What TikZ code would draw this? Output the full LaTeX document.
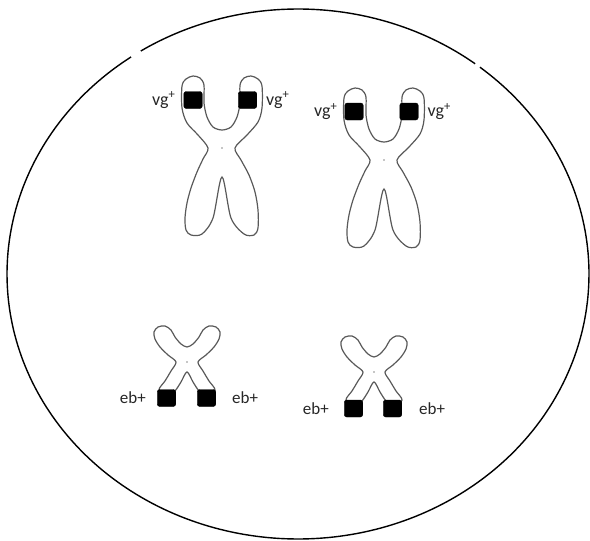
\documentclass[tikz,border=0pt]{standalone}
\usepackage{fontspec}
\setmainfont{Carlito}
\usepackage{tikz}
\usetikzlibrary{positioning}

% outlines, measured from the centromere (y runs down)
\newcommand{\longchrom}[1]{\draw[chrom,shift={#1}] plot[smooth cycle] coordinates {
  (-14,0) (-24,-13) (-35,-25) (-40,-40) (-40,-62) (-36,-69) (-29,-72) (-22,-70) (-18,-63)
  (-18,-45) (-15,-31) (-9,-21) (0,-18) (9,-21) (15,-31) (18,-45) (18,-63) (22,-70)
  (29,-72) (36,-69) (40,-62) (40,-40) (36,-26) (25,-13) (13,0) (19,12) (27,27) (33,44)
  (36,62) (36,80) (32,87) (22,86) (9,70) (0,29) (-9,70) (-20,86) (-31,87) (-36,82)
  (-37,70) (-35,55) (-31,40) (-25,24) (-19,11)};
  \fill[black!45] #1 circle (0.8);}
\newcommand{\shortchrom}[1]{\draw[chrom,shift={#1}] plot[smooth cycle] coordinates {
  (-11,0) (-19,-7) (-27,-15) (-32,-23) (-33,-30) (-29,-35) (-22,-36) (-16,-32) (-12,-25)
  (-6,-18) (0,-15) (6,-18) (12,-25) (16,-32) (22,-36) (29,-35) (33,-30) (32,-23)
  (27,-15) (19,-7) (11,0) (16,9) (22,19) (28,28) (20,36) (12,29) (6,20) (0,10)
  (-6,20) (-12,29) (-20,36) (-28,28) (-22,19) (-16,9)};
  \fill[black!45] #1 circle (0.8);}

\begin{document}
\begin{tikzpicture}[x=1pt,y=-1pt,
  gene node/.style={rectangle,draw,fill=black,rounded corners=2.5pt,
    minimum width=18.5pt,minimum height=17pt,inner sep=0pt},
  vg node/.style={inner sep=0pt,text=black!85,font=\fontsize{18}{20}\selectfont},
  eb node/.style={inner sep=0pt,text=black!85,font=\fontsize{17}{19}\selectfont},
  chrom/.style={draw=black!65,line width=1.2pt},
  rim/.style={draw=black,line width=1.4pt}]

  \useasboundingbox (0,0) rectangle (590,541);

  % the cell, with its two small breaks at the top
  \draw[rim] plot[domain=237.3:307.5,samples=80] ({298+291*cos(\x)},{274+265*sin(\x)});
  \draw[rim] plot[domain=308.7:595,samples=240] ({298+291*cos(\x)},{274+265*sin(\x)});

  \longchrom{(222,148)}
  \longchrom{(384,160)}
  \shortchrom{(187,362)}
  \shortchrom{(374,372)}

  \node[gene node] (vg1) at (193,100) {};
  \node[gene node] (vg2) at (247.5,100) {};
  \node[gene node] (vg3) at (354,111.5) {};
  \node[gene node] (vg4) at (409,111.5) {};
  \node[gene node] (eb1) at (166.5,398) {};
  \node[gene node] (eb2) at (206.5,398) {};
  \node[gene node] (eb3) at (353.5,408.5) {};
  \node[gene node] (eb4) at (392.5,408.5) {};

  \node[vg node] (l1) [left=8pt of vg1] {vg\textsuperscript{+}};
  \node[vg node] (l2) [right=9pt of vg2] {vg\textsuperscript{+}};
  \node[vg node] (l3) [left=7pt of vg3] {vg\textsuperscript{+}};
  \node[vg node] (l4) [right=9pt of vg4] {vg\textsuperscript{+}};
  \node[eb node] (l5) [left=11pt of eb1] {eb+};
  \node[eb node] (l6) [right=16pt of eb2] {eb+};
  \node[eb node] (l7) [left=15pt of eb3] {eb+};
  \node[eb node] (l8) [right=17pt of eb4] {eb+};
\end{tikzpicture}
\end{document}
